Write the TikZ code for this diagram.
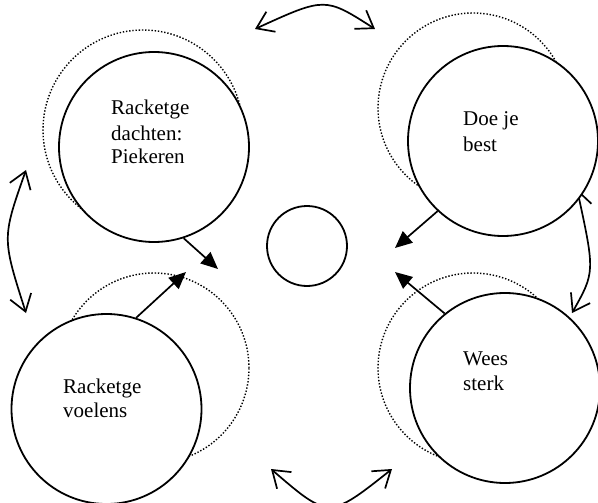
\documentclass[tikz,border=0pt]{standalone}
\usepackage{fontspec}
\setmainfont{Liberation Serif}
\usetikzlibrary{arrows.meta}
\begin{document}
\begin{tikzpicture}[x=1pt,y=-1pt,
  solidc/.style={circle,draw,line width=1.8pt,fill=white,inner sep=0pt},
  dottedc/.style={circle,draw,line width=1.4pt,dash pattern=on 1.4pt off 1.8pt,inner sep=0pt},
  barb/.style={line width=1.7pt,{Straight Barb[length=16pt,width=22pt]}-{Straight Barb[length=16pt,width=22pt]}},
  tri/.style={line width=1.7pt,-{Triangle[length=17pt,width=15pt]}},
  lbl/.style={anchor=base west,inner sep=0pt,font=\fontsize{21pt}{24pt}\selectfont}]
\useasboundingbox (0,0) rectangle (598,503);
% dotted circles
\node[dottedc,minimum size=200pt] (dtl) at (143,130) {};
\node[dottedc,minimum size=190pt] (dtr) at (473,108) {};
\node[dottedc,minimum size=190pt] (dbl) at (154,368) {};
\node[dottedc,minimum size=190pt] (dbr) at (473,368) {};
% curved arrow end points
\coordinate (t1) at (255,29);
\coordinate (t2) at (375,29);
\coordinate (l1) at (26,170);
\coordinate (l2) at (26,313);
\coordinate (b1) at (271,469);
\coordinate (b2) at (392,469);
\coordinate (r1) at (577,189);
\coordinate (r2) at (572,313);
\draw[barb] (t1) .. controls (325,-3) .. (t2);
\draw[barb] (l1) .. controls (2,238) .. (l2);
\draw[barb] (b1) .. controls (329,519) .. (b2);
\draw[barb] (r1) .. controls (595,272) .. (r2);
% solid circles
\node[solidc,minimum size=190pt] (tl) at (154,147) {};
\node[solidc,minimum size=190pt] (tr) at (503,141) {};
\node[solidc,minimum size=190pt] (bl) at (106.5,409) {};
\node[solidc,minimum size=190pt] (br) at (505,388) {};
\node[solidc,minimum size=80pt] (mid) at (307,246) {};
% texts
\node[lbl] (tla) at (111,115) {Racketge};
\node[lbl] (tlb) at (111,140) {dachten:};
\node[lbl] (tlc) at (111,164) {Piekeren};
\node[lbl] (tra) at (463,126) {Doe je};
\node[lbl] (trb) at (463,151) {best};
\node[lbl] (bla) at (63,393) {Racketge};
\node[lbl] (blb) at (63,417) {voelens};
\node[lbl] (bra) at (463,365) {Wees};
\node[lbl] (brb) at (463,390) {sterk};
% straight arrows
\coordinate (atl) at (218,269);
\coordinate (abl) at (186,272);
\coordinate (atr) at (395,248);
\coordinate (abr) at (395,272);
\draw[tri] (tl.-72) -- (atl);
\draw[tri] (bl.72) -- (abl);
\draw[tri] (tr.227) -- (atr);
\draw[tri] (br.129) -- (abr);
\end{tikzpicture}
\end{document}
